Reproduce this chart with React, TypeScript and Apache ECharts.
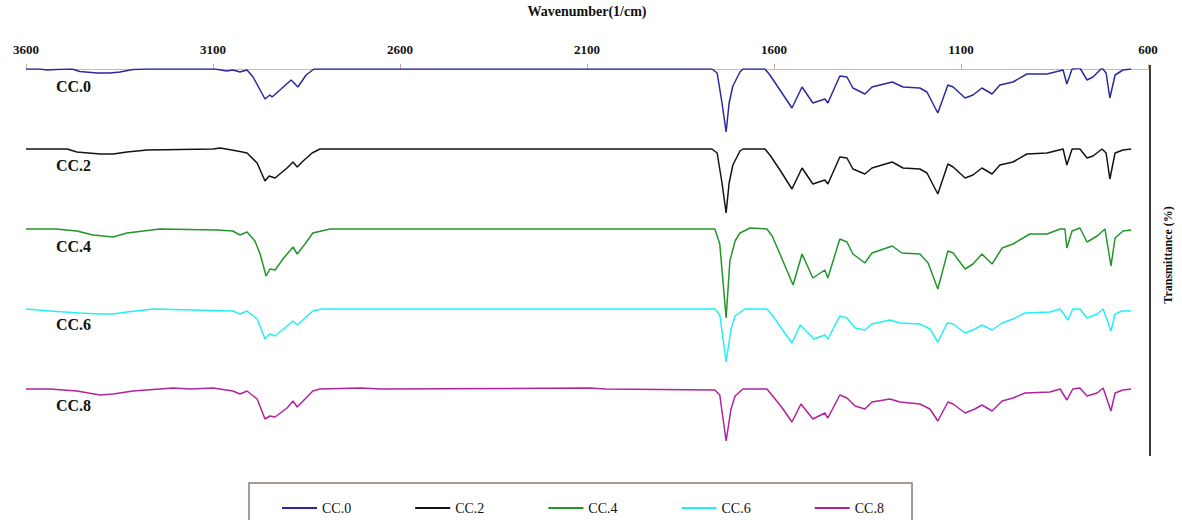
import React, { useEffect, useRef } from "react";
import * as echarts from "echarts";

const SERIES_NAMES = ["CC.0", "CC.2", "CC.4", "CC.6", "CC.8"];
const SERIES_COLORS = ["#2a2a9c", "#141414", "#22962a", "#22f0f4", "#b0229e"];
const SERIES_OFFSETS = [300, 220, 140, 60, -20];
const X_TICKS = [600, 1100, 1600, 2100, 2600, 3100, 3600];

// [wavenumber (1/cm), relative transmittance]
const CC0: number[][] = [
  [3600, 100], [3563, 100], [3544, 99], [3520, 99.5], [3477, 100], [3456, 97.5], [3410, 96], [3375, 96],
  [3349, 97], [3314, 99.5], [3276, 100], [3095, 100], [3063, 98], [3047, 99], [3028, 97], [3009, 99],
  [2993, 92], [2974, 79], [2961, 70], [2948, 74], [2942, 72], [2891, 89], [2873, 82], [2851, 94],
  [2830, 100], [1766, 100], [1752, 96], [1739, 66], [1728, 37], [1720, 66], [1710, 83], [1691, 97],
  [1683, 100], [1624, 100], [1611, 94], [1584, 79], [1552, 61], [1525, 82], [1496, 66], [1464, 70],
  [1456, 66], [1424, 93], [1405, 92], [1389, 81], [1357, 75], [1338, 82], [1284, 87], [1255, 82],
  [1210, 81], [1191, 77], [1162, 56], [1135, 84], [1121, 82], [1089, 71], [1068, 74], [1044, 81],
  [1017, 75], [996, 84], [961, 87], [924, 95], [870, 95], [827, 99], [817, 85], [803, 100], [782, 101],
  [763, 89], [747, 92], [723, 101], [712, 96], [702, 71], [688, 94], [667, 99], [645, 100],
];

const CC2: number[][] = [
  [3600, 100], [3490, 100], [3464, 97], [3402, 95], [3367, 95], [3330, 97], [3276, 99], [3100, 100],
  [3081, 101], [3050, 99], [3028, 97.5], [3009, 96], [2982, 86], [2961, 68], [2950, 73], [2934, 71],
  [2902, 81], [2886, 87], [2875, 82], [2859, 88], [2835, 96], [2814, 100], [1766, 100], [1752, 96],
  [1739, 66], [1728, 36], [1720, 66], [1710, 84], [1691, 98], [1683, 100], [1624, 100], [1611, 94],
  [1584, 79], [1552, 60], [1525, 81], [1496, 65], [1464, 69], [1456, 65], [1424, 92], [1405, 91],
  [1389, 80], [1357, 75], [1338, 81], [1284, 87], [1255, 81], [1210, 80], [1191, 76], [1162, 55],
  [1135, 85], [1121, 82], [1089, 71], [1068, 74], [1044, 81], [1017, 75], [996, 84], [961, 87],
  [924, 95], [870, 96], [827, 100], [817, 84], [803, 100], [782, 100], [763, 91], [747, 93], [723, 100],
  [712, 96], [702, 70], [688, 96], [667, 99], [645, 100],
];

const CC4: number[][] = [
  [3600, 100], [3520, 100], [3464, 98], [3421, 94], [3367, 92], [3330, 96], [3242, 100], [3089, 99],
  [3047, 98], [3028, 94], [3009, 97], [2988, 88], [2974, 75], [2958, 53], [2948, 60], [2934, 59],
  [2913, 70], [2886, 82], [2875, 75], [2854, 85], [2833, 96], [2787, 100], [1758, 100], [1745, 85],
  [1728, 11], [1718, 68], [1704, 88], [1691, 96], [1664, 101], [1619, 100], [1605, 93], [1584, 75],
  [1549, 44], [1525, 75], [1496, 51], [1464, 59], [1456, 51], [1424, 90], [1405, 87], [1389, 75],
  [1357, 66], [1338, 76], [1284, 83], [1258, 76], [1210, 75], [1188, 66], [1162, 40], [1135, 78],
  [1121, 76], [1089, 60], [1068, 65], [1044, 75], [1017, 65], [990, 81], [961, 85], [916, 95],
  [870, 95], [835, 100], [822, 100], [817, 81], [803, 98], [782, 101], [763, 87], [736, 93], [715, 100],
  [699, 63], [688, 91], [667, 98], [645, 99],
];

const CC6: number[][] = [
  [3600, 100], [3536, 98], [3456, 96], [3402, 95], [3367, 95], [3330, 97], [3260, 100], [3047, 98],
  [3028, 95], [3009, 98], [2982, 90], [2961, 70], [2948, 75], [2934, 73], [2902, 83], [2886, 88],
  [2875, 84], [2854, 91], [2833, 98], [2809, 100], [1758, 100], [1745, 94], [1738, 75], [1728, 47],
  [1715, 80], [1704, 93], [1678, 100], [1619, 100], [1603, 93], [1579, 80], [1552, 66], [1530, 84],
  [1493, 70], [1464, 74], [1456, 70], [1424, 93], [1405, 91], [1383, 81], [1357, 79], [1338, 85],
  [1290, 89], [1263, 86], [1210, 85], [1183, 80], [1162, 67], [1137, 86], [1121, 85], [1089, 76],
  [1063, 80], [1044, 84], [1017, 79], [990, 86], [961, 90], [929, 96], [862, 97], [835, 100],
  [814, 89], [801, 100], [782, 100], [763, 91], [736, 95], [720, 100], [699, 78], [688, 95], [670, 98],
  [645, 98],
];

const CC8: number[][] = [
  [3600, 100], [3536, 100], [3464, 98], [3402, 94], [3367, 95], [3314, 98], [3207, 101], [3160, 100],
  [3100, 101], [3047, 98], [3028, 95], [3009, 98], [2982, 90], [2961, 70], [2948, 73], [2934, 72],
  [2902, 81], [2886, 88], [2875, 82], [2854, 90], [2833, 98], [2814, 100], [2707, 101], [2650, 100],
  [2092, 101], [2050, 100], [1758, 99], [1745, 94], [1738, 75], [1728, 48], [1715, 80], [1704, 93],
  [1683, 100], [1619, 100], [1597, 90], [1576, 80], [1552, 67], [1528, 85], [1496, 70], [1464, 76],
  [1456, 71], [1424, 94], [1405, 91], [1383, 83], [1357, 80], [1338, 87], [1290, 90], [1263, 87],
  [1210, 85], [1183, 80], [1162, 68], [1135, 87], [1121, 85], [1089, 76], [1063, 80], [1044, 84],
  [1017, 78], [990, 88], [961, 91], [929, 96], [862, 97], [835, 100], [817, 89], [801, 100], [782, 101],
  [763, 93], [736, 96], [720, 101], [699, 78], [688, 96], [667, 99], [645, 100],
];

const SERIES_DATA = [CC0, CC2, CC4, CC6, CC8];
const LABEL_Y = [86, 165, 246, 324, 405];

const SERIF = "'Liberation Serif', 'Times New Roman', serif";

export default function App() {
  const ref = useRef<HTMLDivElement>(null);

  useEffect(() => {
    if (!ref.current) return;
    const chart = echarts.init(ref.current, undefined, { renderer: "svg" });

    const series = SERIES_DATA.map((d, i) => ({
      name: SERIES_NAMES[i],
      type: "line",
      data: d.map(([x, y]) => [x, y + SERIES_OFFSETS[i]]),
      symbol: "none",
      showSymbol: false,
      lineStyle: { color: SERIES_COLORS[i], width: 1.5 },
      itemStyle: { color: SERIES_COLORS[i] },
      z: 3,
    }));

    const labelGraphics = SERIES_NAMES.map((n, i) => ({
      type: "text",
      x: 56,
      y: LABEL_Y[i],
      style: {
        text: n,
        fontFamily: SERIF,
        fontWeight: "bold",
        fontSize: 16,
        fill: "#111",
        textAlign: "left",
        textVerticalAlign: "middle",
      },
    }));

    chart.setOption({
      animation: false,
      backgroundColor: "#ffffff",
      grid: { left: 26, right: 34, top: 69, bottom: 51, containLabel: false, outerBoundsMode: "none" },
      xAxis: {
        type: "value",
        position: "top",
        inverse: true,
        min: X_TICKS[0],
        max: X_TICKS[X_TICKS.length - 1],
        interval: 500,
        name: "Wavenumber(1/cm)",
        nameLocation: "middle",
        nameGap: 51,
        nameTextStyle: { fontFamily: SERIF, fontWeight: "bold", fontSize: 14, color: "#111" },
        axisLine: { show: true, onZero: false, lineStyle: { color: "#d8b4a8", width: 1 } },
        axisTick: { show: true, length: 5, lineStyle: { color: "#c8aaa0" } },
        axisLabel: {
          fontFamily: SERIF,
          fontWeight: "bold",
          fontSize: 13,
          color: "#111",
          margin: 13,
          formatter: (v: number) => String(v),
        },
        splitLine: { show: false },
      },
      yAxis: { type: "value", min: 0, max: 400, show: false },
      legend: {
        data: SERIES_NAMES.map((n) => ({ name: n, icon: "rect" })),
        left: 277,
        top: 496,
        itemWidth: 35,
        itemHeight: 2,
        itemGap: 64,
        textStyle: { fontFamily: SERIF, fontSize: 14, color: "#111" },
      },
      graphic: [
        ...labelGraphics,
        {
          type: "line",
          shape: { x1: 1150, y1: 65, x2: 1150, y2: 456 },
          style: { stroke: "#3a3a3a", lineWidth: 2 },
        },
        {
          type: "text",
          x: 1168,
          y: 255,
          rotation: Math.PI / 2,
          style: {
            text: "Transmittance (%)",
            fontFamily: SERIF,
            fontWeight: "bold",
            fontSize: 12,
            fill: "#111",
            textAlign: "center",
            textVerticalAlign: "middle",
          },
        },
        {
          type: "rect",
          shape: { x: 249, y: 483, width: 663, height: 60 },
          style: { fill: "none", stroke: "#8a7a76", lineWidth: 1.5 },
          z: -1,
        },
      ],
      series,
    });

    return () => chart.dispose();
  }, []);

  return (
    <div
      ref={ref}
      style={{ position: "fixed", left: 0, top: 0, width: 1182, height: 520, background: "#fff" }}
    />
  );
}
